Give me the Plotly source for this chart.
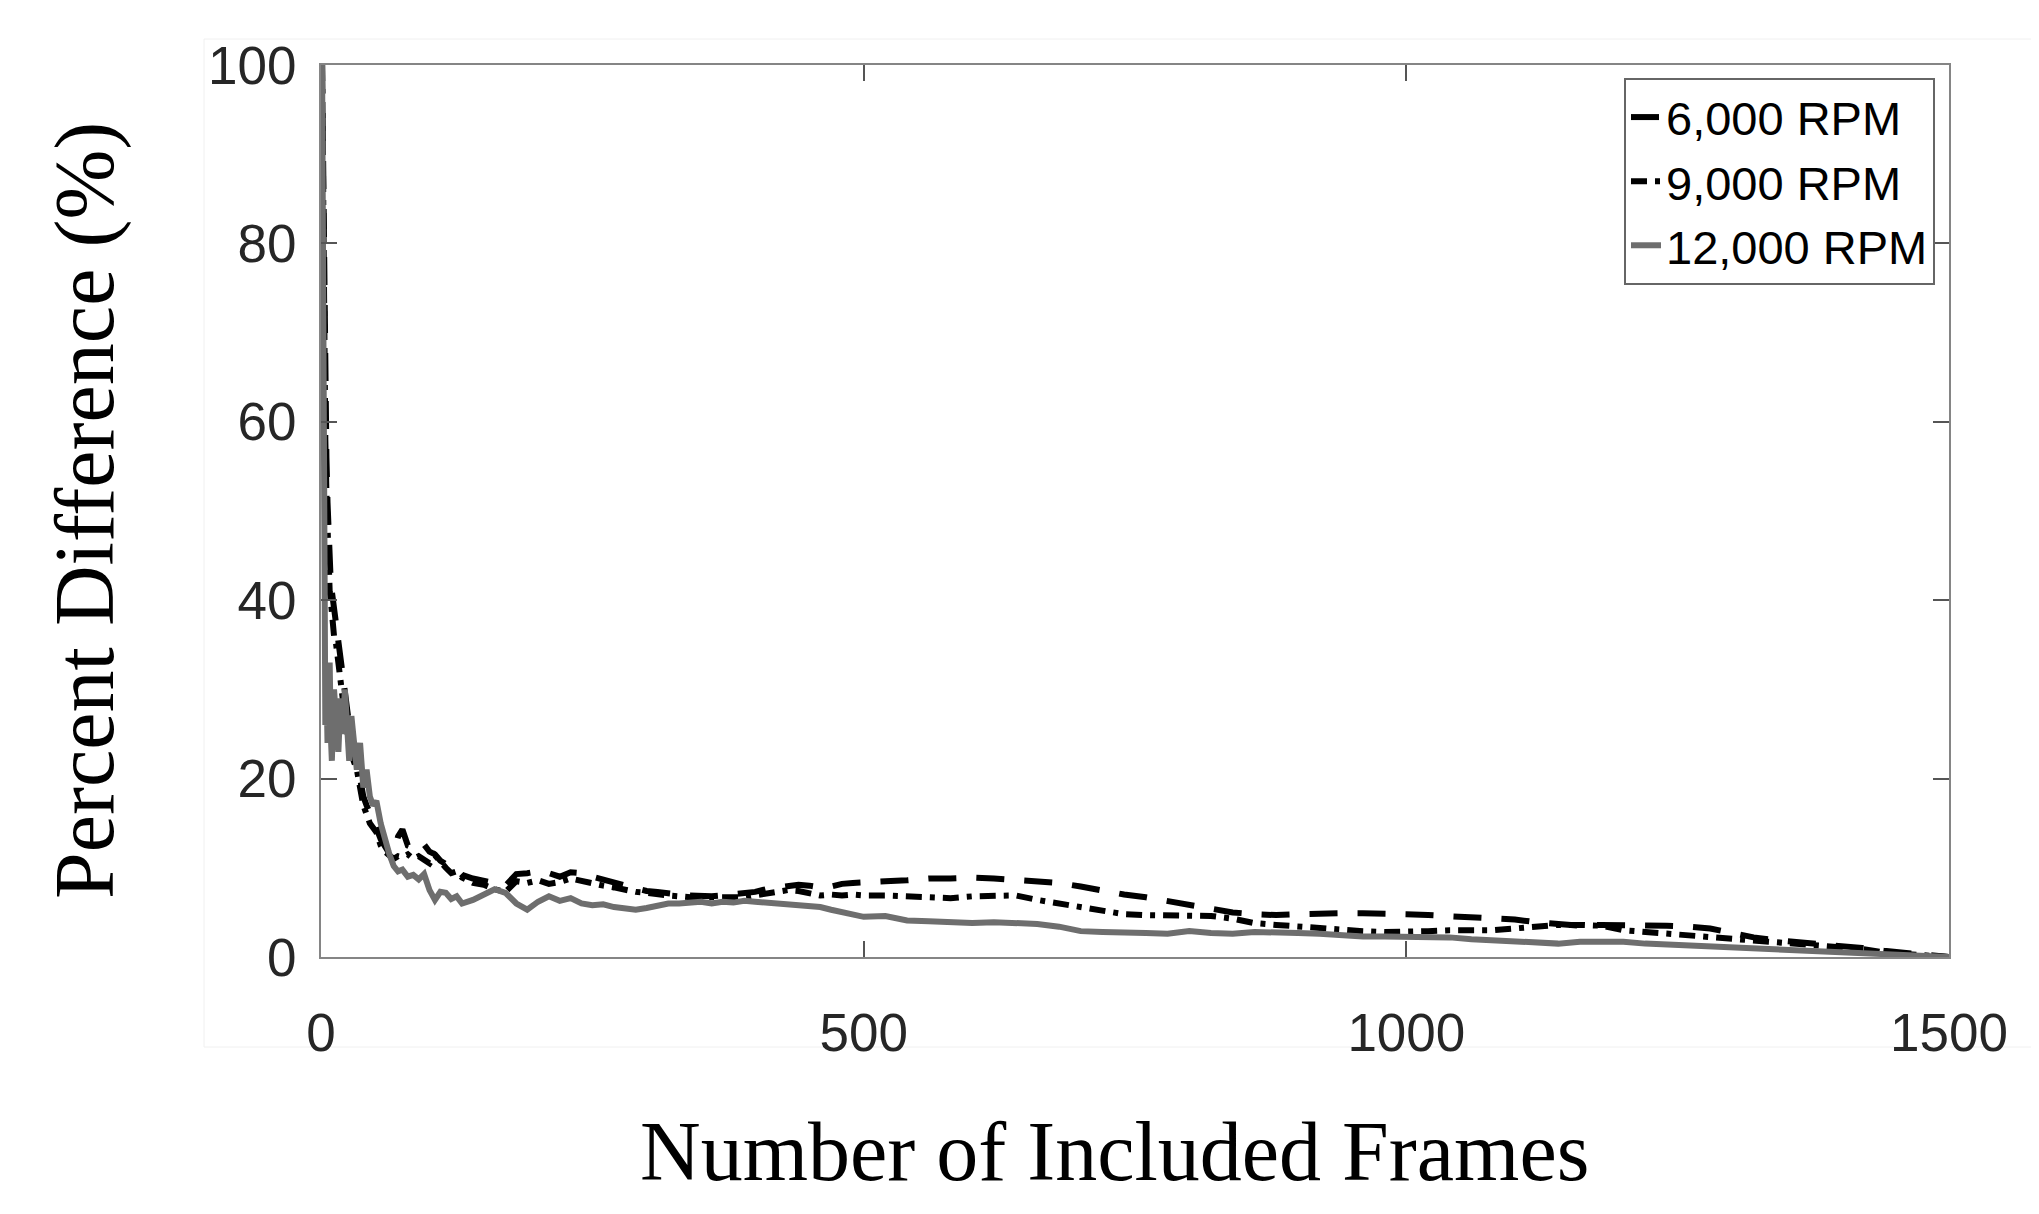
import plotly.graph_objects as go

# frame counts (x) shared by all three series
frames = [1, 2, 3, 4, 5, 6, 7, 8, 9, 10,
          12, 14, 16, 18, 20, 22, 24, 26, 28, 30,
          33, 36, 39, 42, 45, 48, 51,
          55, 59, 63, 67, 71, 75,
          80, 85, 90, 95, 100, 105, 110, 115, 120, 125, 130,
          140, 150, 160, 170, 180, 190, 200, 210, 220, 230,
          240, 250, 260, 270, 280, 290, 300, 310, 320, 330,
          340, 350, 360, 370, 380, 390, 400, 410, 420, 430,
          440, 450, 460, 470, 480, 490, 500,
          520, 540, 560, 580, 600, 620, 640, 660, 680, 700,
          720, 740, 760, 780, 800, 820, 840, 860, 880, 900,
          920, 940, 960, 980, 1000, 1020, 1040, 1060, 1080, 1100,
          1120, 1140, 1160, 1180, 1200, 1220, 1240, 1260, 1280, 1300,
          1320, 1340, 1360, 1380, 1400, 1420, 1440, 1460, 1480, 1500]

rpm_6000 = [100, 86, 72, 63, 56, 51, 47, 44, 42, 41,
            39, 37, 35, 33, 31.5, 30, 27, 26, 24.5, 24,
            22, 20, 18, 17, 16, 15.3, 14.5,
            13.2, 12.4, 11.6, 11.8, 13.5, 14.3,
            12.5, 12.2, 11.9, 12.6, 11.8, 11.5, 10.8, 10.4, 10.3, 9.8, 9.2,
            8.8, 8.6, 8.3, 8.0, 9.3, 9.4, 9.6, 9.4, 9.0, 9.5,
            9.4, 9.0, 8.7, 8.4, 8.0, 7.7, 7.4, 7.3, 7.1, 7.0,
            6.9, 6.8, 6.8, 6.9, 7.0, 7.2, 7.3, 7.6, 7.8, 8.0,
            8.1, 8.0, 7.8, 7.9, 8.2, 8.3, 8.4,
            8.5, 8.6, 8.8, 8.8, 8.9, 8.8, 8.6, 8.5, 8.3, 7.9,
            7.4, 7.0, 6.7, 6.3, 5.9, 5.4, 5.0, 4.8, 4.7, 4.8,
            4.9, 4.9, 4.9, 4.9, 4.8, 4.7, 4.6, 4.5, 4.4, 4.2,
            3.9, 3.7, 3.5, 3.6, 3.6, 3.6, 3.5, 3.4, 3.2, 2.7,
            2.2, 1.9, 1.7, 1.5, 1.3, 1.0, 0.7, 0.5, 0.3, 0.0]

rpm_9000 = [100, 80, 66, 58, 52, 47, 44, 41, 40, 38,
            36, 35, 33, 31, 29, 28, 25, 26, 23, 22,
            21, 19, 17, 16, 15, 14.5, 14,
            12.5, 11.8, 11.4, 11.0, 11.3, 11.2,
            11.5, 11.0, 11.3, 10.8, 10.5, 11.4, 10.6, 10.0, 9.4, 9.6, 8.9,
            8.3, 8.1, 7.6, 7.3, 8.5, 8.3, 8.6, 8.2, 8.4, 8.8,
            8.5, 8.2, 8.0, 7.8, 7.5, 7.3, 7.2, 7.0, 6.9, 6.8,
            6.7, 6.6, 6.7, 6.7, 6.8, 6.7, 6.9, 7.1, 7.2, 7.5,
            7.4, 7.1, 6.9, 7.0, 6.9, 7.0, 6.9,
            6.9, 6.8, 6.6, 6.6, 6.8, 6.8, 6.9, 6.4, 6.0, 5.6,
            5.2, 4.8, 4.7, 4.7, 4.7, 4.6, 4.3, 3.8, 3.6, 3.4,
            3.2, 3.0, 2.9, 2.8, 2.8, 2.9, 3.0, 3.0, 3.0, 3.2,
            3.4, 3.6, 3.6, 3.5, 3.0, 2.8, 2.6, 2.4, 2.2, 2.0,
            1.8, 1.7, 1.5, 1.3, 1.1, 0.9, 0.5, 0.3, 0.2, 0.0]

rpm_12000 = [100, 58, 33, 26, 31, 24, 29, 33, 25, 22,
             30, 27, 23, 29, 25, 30, 26, 22, 27, 25,
             21, 24, 19, 21, 18, 17, 17.5,
             15, 13, 11.5, 10.2, 9.6, 9.8,
             9.0, 9.2, 8.7, 9.3, 7.5, 6.4, 7.3, 7.2, 6.5, 6.8, 6.0,
             6.4, 7.0, 7.6, 7.2, 6.0, 5.3, 6.2, 6.8, 6.3, 6.6,
             6.0, 5.8, 5.9, 5.6, 5.4, 5.3, 5.5, 5.8, 6.0, 6.0,
             6.1, 6.2, 6.0, 6.2, 6.1, 6.3, 6.2, 6.1, 6.0, 6.0,
             5.9, 5.8, 5.6, 5.3, 5.0, 4.7, 4.5,
             4.6, 4.1, 4.0, 3.9, 3.8, 3.9, 3.8, 3.7, 3.4, 2.9,
             2.8, 2.8, 2.7, 2.6, 2.9, 2.7, 2.6, 2.8, 2.8, 2.7,
             2.6, 2.4, 2.3, 2.3, 2.3, 2.3, 2.2, 2.0, 1.9, 1.8,
             1.6, 1.5, 1.7, 1.7, 1.7, 1.5, 1.4, 1.3, 1.1, 1.1,
             1.0, 0.9, 0.8, 0.6, 0.5, 0.4, 0.3, 0.2, 0.1, 0.0]

series_names = ['6,000 RPM', '9,000 RPM', '12,000 RPM']
x_ticks = [0, 500, 1000, 1500]
y_ticks = [0, 20, 40, 60, 80, 100]

for s in (rpm_6000, rpm_9000, rpm_12000):
    assert len(s) == len(frames)

fig = go.Figure()
fig.add_trace(go.Scatter(x=frames, y=rpm_6000, name=series_names[0], mode='lines',
                         line=dict(color='black', width=6, dash='28px,20px')))
fig.add_trace(go.Scatter(x=frames, y=rpm_9000, name=series_names[1], mode='lines',
                         line=dict(color='black', width=6, dash='16px,8px,5px,8px')))
fig.add_trace(go.Scatter(x=frames, y=rpm_12000, name=series_names[2], mode='lines',
                         line=dict(color='#6e6e6e', width=6)))

tick_font = dict(family='Liberation Sans, Arial', size=53, color='#262626')
axis_common = dict(showgrid=False, zeroline=False, showline=True, linecolor='#858585',
                   linewidth=2, mirror='ticks', ticks='inside', ticklen=16, tickwidth=2,
                   tickcolor='#555555', tickfont=tick_font)

# page body has an 8px margin, so the plot box is set 8px up/left
serif = dict(family='Liberation Serif, Times New Roman', size=84, color='black')
fig.update_layout(
    width=2039, height=1214,
    margin=dict(l=313, r=98, t=57, b=265),
    paper_bgcolor='white', plot_bgcolor='white',
    xaxis=dict(range=[0, 1500], tickvals=x_ticks, ticklabelstandoff=28, **axis_common),
    yaxis=dict(range=[0, 100], tickvals=y_ticks, ticklabelstandoff=12, **axis_common),
    legend=dict(x=0.9914, y=0.9854, xanchor='right', yanchor='top',
                bgcolor='white', bordercolor='#666666', borderwidth=2,
                font=dict(family='Liberation Sans, Arial', size=47, color='black'),
                itemwidth=30, tracegroupgap=0),
    annotations=[
        dict(text='Number of Included Frames', xref='paper', yref='paper',
             x=(1114 - 321) / 1628, y=-(1151 - 957) / 892, xanchor='center', yanchor='middle',
             showarrow=False, font=serif),
        dict(text='Percent Difference (%)', xref='paper', yref='paper',
             x=-(321 - 85) / 1628, y=0.5, xanchor='center', yanchor='middle',
             textangle=-90, showarrow=False, font=serif),
    ],
    shapes=[dict(type='rect', xref='paper', yref='paper',
                 x0=-(321 - 204) / 1628, x1=1.06, y0=-(1047 - 957) / 892, y1=(957 - 39) / 892,
                 line=dict(color='#f0f0f0', width=1), layer='below')],
)

fig.write_html('out.html')
